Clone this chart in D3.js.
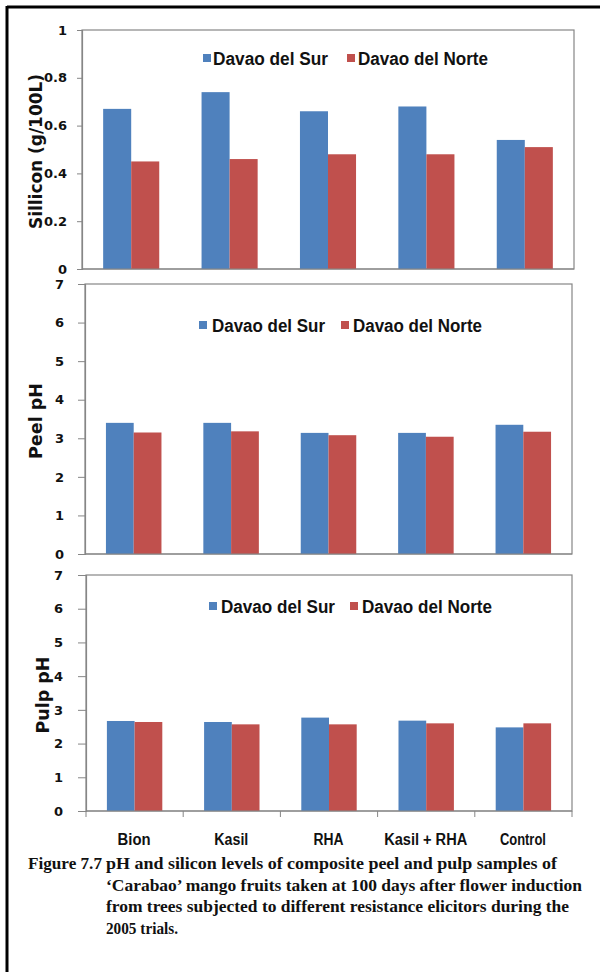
<!DOCTYPE html>
<html>
<head>
<meta charset="utf-8">
<script src="https://cdn.jsdelivr.net/npm/d3@7"></script>
<style>
  html, body { margin: 0; padding: 0; background: #fff; }
  svg { display: block; }
</style>
</head>
<body>
<svg id="chart" width="600" height="972"></svg>
<script>
// ---------------- DATA ----------------
const categories = ["Bion", "Kasil", "RHA", "Kasil + RHA", "Control"];
const seriesNames = ["Davao del Sur", "Davao del Norte"];

const siliconSur   = [0.67, 0.74, 0.66, 0.68, 0.54];
const siliconNorte = [0.45, 0.46, 0.48, 0.48, 0.51];

const peelSur   = [3.40, 3.40, 3.14, 3.14, 3.35];
const peelNorte = [3.15, 3.18, 3.08, 3.04, 3.17];

const pulpSur   = [2.67, 2.64, 2.77, 2.68, 2.48];
const pulpNorte = [2.64, 2.57, 2.57, 2.60, 2.60];

const siliconTicks = [0, 0.2, 0.4, 0.6, 0.8, 1];
const siliconTickLabels = ["0", "0.2", "0.4", "0.6", "0.8", "1"];
const phTicks = [0, 1, 2, 3, 4, 5, 6, 7];

const captionLines = [
  "pH and silicon levels of composite peel and pulp samples of",
  "\u2018Carabao\u2019 mango fruits taken at 100 days after flower induction",
  "from trees subjected to different resistance elicitors during the",
  "2005 trials."
];
const captionLabel = "Figure 7.7";

// ---------------- STYLE ----------------
const colors = ["#4F81BD", "#C0504D"];
const gridGray = "#868686";
const svg = d3.select("#chart");

// outer frame
svg.append("line").attr("x1", 7).attr("x2", 600).attr("y1", 7).attr("y2", 7)
  .attr("stroke", "#000").attr("stroke-width", 3);
svg.append("line").attr("x1", 7).attr("x2", 7).attr("y1", 6).attr("y2", 972)
  .attr("stroke", "#000").attr("stroke-width", 3);

const panels = [
  { sur: siliconSur, norte: siliconNorte, domain: [0, 1], ticks: siliconTicks,
    tickFmt: (d, i) => siliconTickLabels[i],
    x0: 82, x1: 574, yTop: 30, yBot: 269, tickSize: 5, tickPad: 10,
    title: "Sillicon (g/100L)", titleX: 42, titleLen: 155,
    legendY: 65, legendSq: [203, 347], legendTx: [213, 358], legendLen: [115, 130],
    xTicks: false },
  { sur: peelSur, norte: peelNorte, domain: [0, 7], ticks: phTicks,
    tickFmt: d3.format("d"),
    x0: 85, x1: 572, yTop: 284, yBot: 554, tickSize: 7, tickPad: 14,
    title: "Peel pH", titleX: 42, titleLen: 76,
    legendY: 332, legendSq: [199, 341], legendTx: [212, 353], legendLen: [113, 129],
    xTicks: false },
  { sur: pulpSur, norte: pulpNorte, domain: [0, 7], ticks: phTicks,
    tickFmt: d3.format("d"),
    x0: 86, x1: 572, yTop: 575, yBot: 811, tickSize: 8, tickPad: 15,
    title: "Pulp pH", titleX: 49, titleLen: 77,
    legendY: 613, legendSq: [209, 350], legendTx: [221, 362], legendLen: [114, 130],
    xTicks: true }
];

panels.forEach(p => {
  const g = svg.append("g");
  const x = d3.scaleBand().domain(categories).range([p.x0, p.x1]).padding(0);
  const bw = x.bandwidth();
  const xs = d3.scaleBand().domain(seriesNames).range([bw * 0.215, bw * 0.785]).padding(0);
  const y = d3.scaleLinear().domain(p.domain).range([p.yBot, p.yTop]);

  // plot area border
  g.append("rect").attr("x", p.x0).attr("y", p.yTop)
    .attr("width", p.x1 - p.x0).attr("height", p.yBot - p.yTop)
    .attr("fill", "#fff").attr("stroke", gridGray).attr("stroke-width", 1.2);

  // bars
  const rows = categories.map((c, i) => ({ c, vals: [p.sur[i], p.norte[i]] }));
  const grp = g.selectAll("g.cat").data(rows).enter().append("g")
    .attr("transform", d => `translate(${x(d.c)},0)`);
  grp.selectAll("rect").data(d => d.vals.map((v, k) => ({ k, v }))).enter().append("rect")
    .attr("x", d => xs(seriesNames[d.k]))
    .attr("width", xs.bandwidth())
    .attr("y", d => y(d.v))
    .attr("height", d => y(0) - y(d.v))
    .attr("fill", d => colors[d.k]);

  // y axis
  const ax = g.append("g").attr("transform", `translate(${p.x0},0)`)
    .call(d3.axisLeft(y).tickValues(p.ticks).tickFormat(p.tickFmt)
      .tickSize(p.tickSize).tickPadding(p.tickPad));
  ax.select(".domain").attr("stroke", gridGray).attr("stroke-width", 1.2);
  ax.selectAll(".tick line").attr("stroke", gridGray);
  ax.selectAll(".tick text").attr("fill", "#111")
    .style("font-family", "'DejaVu Sans', sans-serif")
    .style("font-weight", "bold").style("font-size", "13px");

  // x axis baseline
  g.append("line").attr("x1", p.x0).attr("x2", p.x1)
    .attr("y1", y(0)).attr("y2", y(0)).attr("stroke", gridGray).attr("stroke-width", 1.2);

  if (p.xTicks) {
    const bounds = categories.map(c => x(c)).concat([x.range()[1]]);
    g.selectAll("line.xt").data(bounds).enter().append("line")
      .attr("x1", d => d).attr("x2", d => d)
      .attr("y1", y(0)).attr("y2", y(0) + 6)
      .attr("stroke", gridGray);
    const catLens = [33, 34, 30, 83, 46];
    g.selectAll("text.cat").data(categories).enter().append("text")
      .attr("x", d => x(d) + bw / 2 - 0.5)
      .attr("y", 845)
      .attr("text-anchor", "middle")
      .attr("textLength", (d, i) => catLens[i])
      .attr("lengthAdjust", "spacingAndGlyphs")
      .style("font-family", "'Liberation Sans Narrow', 'Liberation Sans', sans-serif")
      .style("font-weight", "bold").style("font-size", "16px")
      .attr("fill", "#111")
      .text(d => d);
  }

  // y title
  g.append("text")
    .attr("transform", `translate(${p.titleX},${(p.yTop + p.yBot) / 2 + 2}) rotate(-90)`)
    .attr("text-anchor", "middle")
    .attr("textLength", p.titleLen)
    .attr("lengthAdjust", "spacingAndGlyphs")
    .style("font-family", "'DejaVu Sans', sans-serif")
    .style("font-weight", "bold").style("font-size", "17px")
    .attr("fill", "#111")
    .text(p.title);

  // legend
  seriesNames.forEach((s, k) => {
    g.append("rect").attr("x", p.legendSq[k]).attr("y", p.legendY - 11)
      .attr("width", 8).attr("height", 8).attr("fill", colors[k]);
    g.append("text").attr("x", p.legendTx[k]).attr("y", p.legendY)
      .attr("textLength", p.legendLen[k])
      .attr("lengthAdjust", "spacingAndGlyphs")
      .style("font-family", "'Liberation Sans Narrow', 'Liberation Sans', sans-serif")
      .style("font-weight", "bold").style("font-size", "18px")
      .attr("fill", "#111")
      .text(s);
  });
});

// caption
const capFont = "'Liberation Serif', 'Times New Roman', serif";
svg.append("text").attr("x", 28).attr("y", 869)
  .attr("textLength", 74).attr("lengthAdjust", "spacingAndGlyphs")
  .style("font-family", capFont).style("font-weight", "bold").style("font-size", "17px")
  .attr("fill", "#111").text(captionLabel);
const capLens = [451, 476, 463, 72];
svg.selectAll("text.cap").data(captionLines).enter().append("text")
  .attr("x", 106).attr("y", (d, i) => 869 + i * 21.5)
  .attr("textLength", (d, i) => capLens[i]).attr("lengthAdjust", "spacingAndGlyphs")
  .style("font-family", capFont).style("font-weight", "bold").style("font-size", "17px")
  .attr("fill", "#111").text(d => d);
</script>
</body>
</html>
